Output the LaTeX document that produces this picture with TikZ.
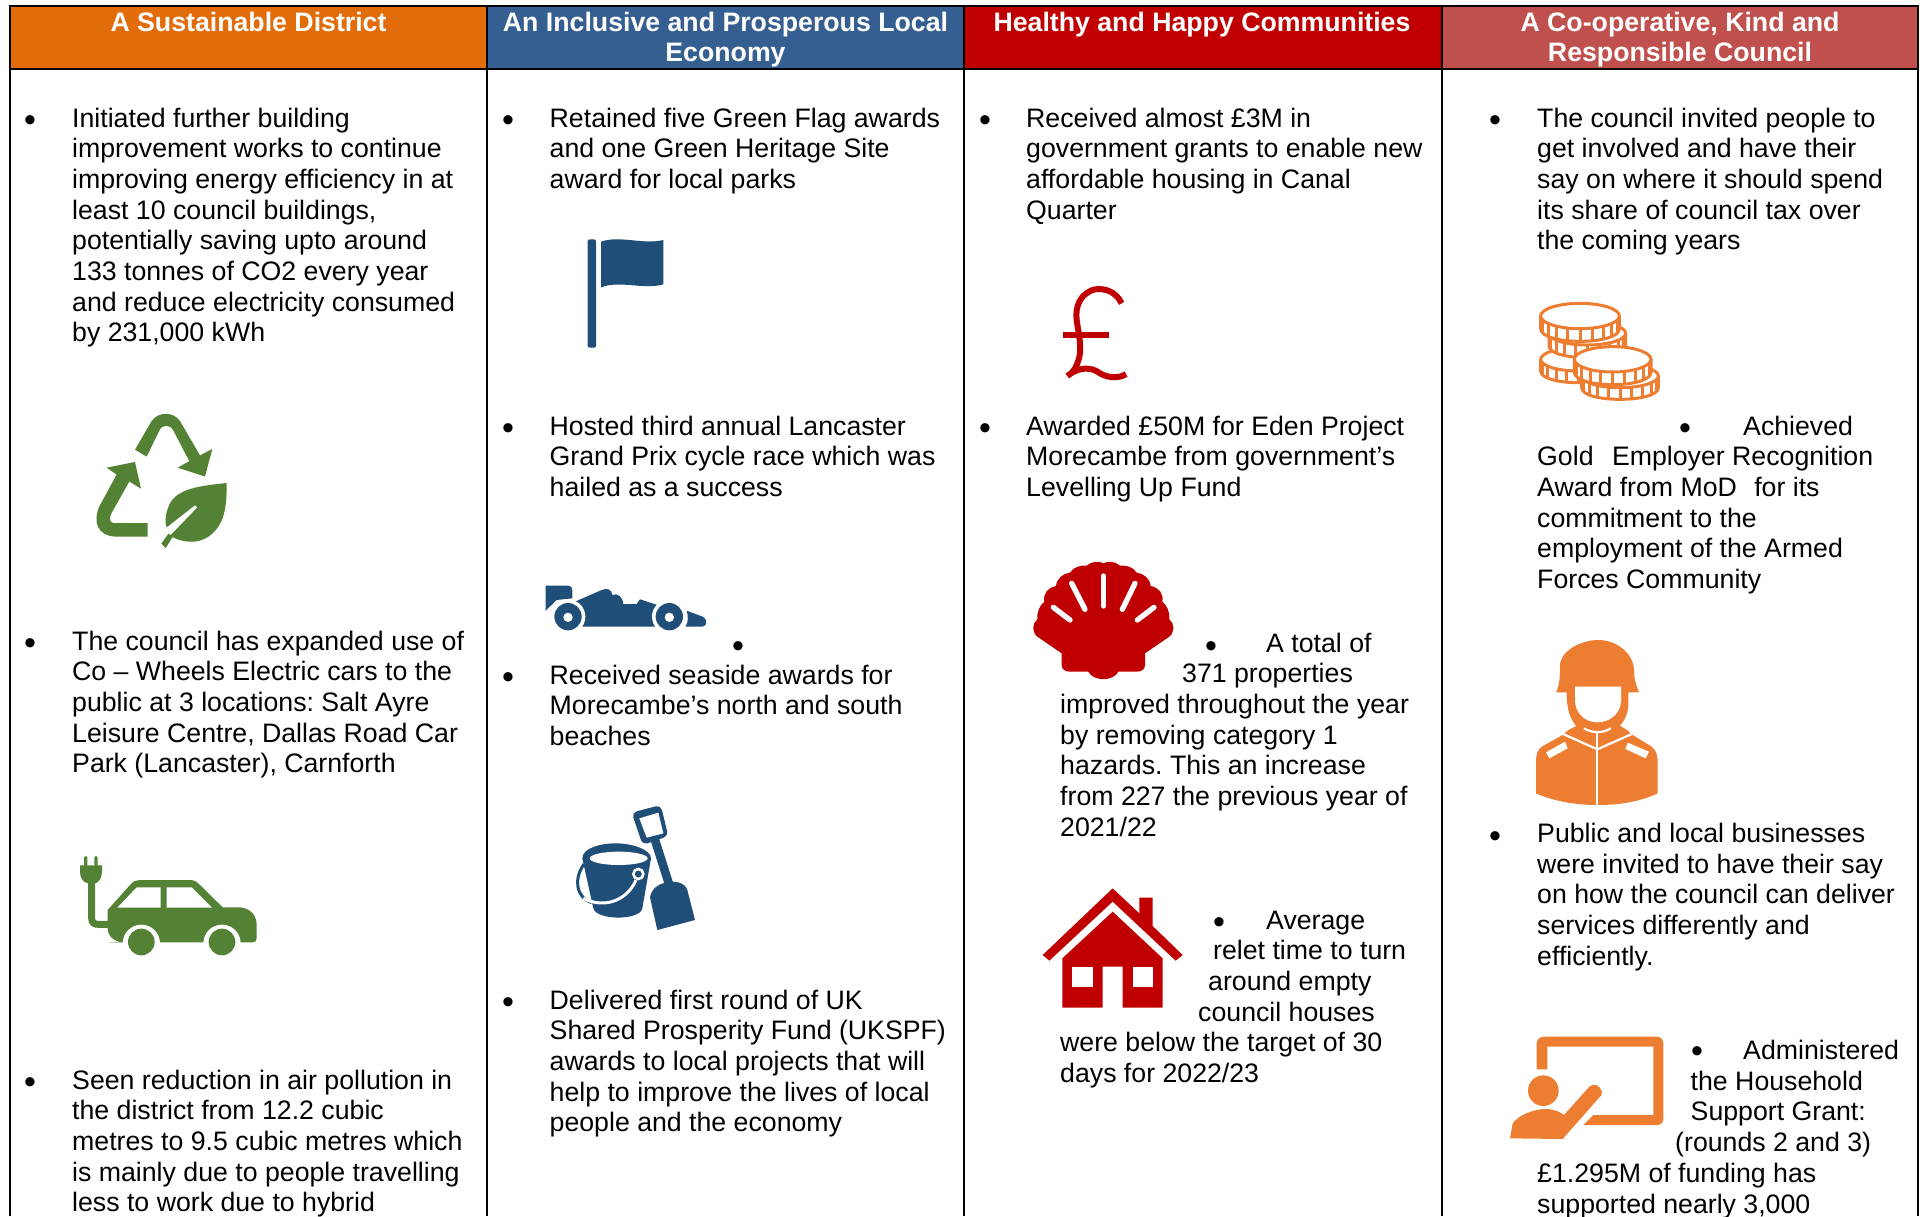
\documentclass[tikz,border=0pt]{standalone}
\usepackage{fontspec}
\setmainfont{Liberation Sans}
\definecolor{hOrange}{HTML}{E36C0A}
\definecolor{hBlue}{HTML}{365F91}
\definecolor{hRed}{HTML}{C00000}
\definecolor{hRose}{HTML}{C0504D}
\definecolor{icGreen}{HTML}{548235}
\definecolor{icBlue}{HTML}{1F4E79}
\definecolor{icRed}{HTML}{C00000}
\definecolor{icOrange}{HTML}{ED7D31}
\newcommand{\fl}{\rule{0pt}{20pt}}
\newcommand{\ind}[1]{\hspace*{#1pt}}
\newcommand{\coinshape}[5]{% cx cy rx ry h
  \path[fill=white] (#1-#3,#2) -- (#1-#3,#2+#5) .. controls (#1-#3,#2+#5+1.333*#4) and (#1+#3,#2+#5+1.333*#4) .. (#1+#3,#2+#5) -- (#1+#3,#2) -- cycle;
  \draw[icOrange,line width=3pt] (#1-#3,#2) -- (#1-#3,#2+#5) .. controls (#1-#3,#2+#5+1.333*#4) and (#1+#3,#2+#5+1.333*#4) .. (#1+#3,#2+#5) -- (#1+#3,#2);
  \foreach \t in {18,36,...,162} {\draw[icOrange,line width=3pt] ({#1+#3*cos(\t)},{#2+#4*sin(\t)}) -- ({#1+#3*cos(\t)},{#2+#5+#4*sin(\t)});}
  \draw[icOrange,line width=3pt,fill=white] (#1,#2) ellipse [x radius=#3,y radius=#4];
}
\tikzset{
  hdrtext/.style={text=white,align=center,inner sep=0pt,anchor=north,yshift=21.2pt,font=\fontsize{26.7}{30.9}\selectfont\bfseries\frenchspacing},
  body/.style={align=left,inner sep=0pt,anchor=north west,yshift=21.2pt,text=black,font=\fontsize{26.7}{30.7}\selectfont\frenchspacing},
  bul/.style={inner sep=0pt,anchor=base,yshift=-12.6pt,text=black,font=\fontsize{34}{34}\selectfont},
  rule/.style={line width=2.6pt,black},
  zoomed/.style={shift={(#1)},scale=1/3}
}
\begin{document}
\begin{tikzpicture}[x=1pt,y=-1pt]
\useasboundingbox (0,0) rectangle (1925,1216);
\fill[white] (0,0) rectangle (1925,1216);
% headers
\fill[hOrange] (10,6) rectangle (487,69);
\fill[hBlue] (487,6) rectangle (964,69);
\fill[hRed] (964,6) rectangle (1442,69);
\fill[hRose] (1442,6) rectangle (1918,69);
\draw[rule] (10,1216) -- (10,6) -- (1918,6) -- (1918,1216);
\draw[rule] (10,69) -- (1918,69);
\draw[rule] (487,6) -- (487,1216);
\draw[rule] (964,6) -- (964,1216);
\draw[rule] (1442,6) -- (1442,1216);
\node[hdrtext] (h1) at (248.5,32) {\fl A Sustainable District};
\node[hdrtext] (h2) at (725.5,32) {\fl An Inclusive and Prosperous Local\\Economy};
\node[hdrtext] (h3) at (1202,32) {\fl Healthy and Happy Communities};
\node[hdrtext] (h4) at (1680,32) {\fl A Co-operative, Kind and\\Responsible Council};
% column 1
\node[bul] (b11) at (30,119) {•};
\node[body] (t11) at (72,128) {\fl Initiated further building\\improvement works to continue\\improving energy efficiency in at\\least 10 council buildings,\\potentially saving upto around\\133 tonnes of CO2 every year\\and reduce electricity consumed\\by 231,000 kWh};
\node[bul] (b12) at (30,642) {•};
\node[body] (t12) at (72,651) {\fl The council has expanded use of\\Co – Wheels Electric cars to the\\public at 3 locations: Salt Ayre\\Leisure Centre, Dallas Road Car\\Park (Lancaster), Carnforth};
\node[bul] (b13) at (30,1081) {•};
\node[body] (t13) at (72,1090) {\fl Seen reduction in air pollution in\\the district from 12.2 cubic\\metres to 9.5 cubic metres which\\is mainly due to people travelling\\less to work due to hybrid};
% column 2
\node[bul] (b21) at (508,119) {•};
\node[body] (t21) at (549.5,128) {\fl Retained five Green Flag awards\\and one Green Heritage Site\\award for local parks};
\node[bul] (b22) at (508,427) {•};
\node[body] (t22) at (549.5,436) {\fl Hosted third annual Lancaster\\Grand Prix cycle race which was\\hailed as a success};
\node[bul] (b23) at (738,644.5) {•};
\node[bul] (b24) at (508,676) {•};
\node[body] (t23) at (549.5,685) {\fl Received seaside awards for\\Morecambe’s north and south\\beaches};
\node[bul] (b25) at (508,1001) {•};
\node[body] (t24) at (549.5,1010) {\fl Delivered first round of UK\\Shared Prosperity Fund (UKSPF)\\awards to local projects that will\\help to improve the lives of local\\people and the economy};
% column 3
\node[bul] (b31) at (985,119) {•};
\node[body] (t31) at (1026,128) {\fl Received almost £3M in\\government grants to enable new\\affordable housing in Canal\\Quarter};
\node[bul] (b32) at (985,427) {•};
\node[body] (t32) at (1026,436) {\fl Awarded £50M for Eden Project\\Morecambe from government’s\\Levelling Up Fund};
\node[bul] (b33) at (1211,644.5) {•};
\node[body] (t33) at (1060,653) {\fl\ind{206}A total of\\\ind{122}371 properties\\improved throughout the year\\by removing category 1\\hazards. This an increase\\from 227 the previous year of\\2021/22};
\node[bul] (b34) at (1219,921) {•};
\node[body] (t34) at (1060,930) {\fl\ind{206}Average\\\ind{153}relet time to turn\\\ind{148}around empty\\\ind{138}council houses\\were below the target of 30\\days for 2022/23};
% column 4
\node[bul] (b41) at (1495,119) {•};
\node[body] (t41) at (1537,128) {\fl The council invited people to\\get involved and have their\\say on where it should spend\\its share of council tax over\\the coming years};
\node[bul] (b42) at (1685,427) {•};
\node[body] (t42) at (1537,436) {\fl\ind{206}Achieved\\Gold\ \ \hspace{3.6pt}Employer Recognition\\Award from MoD\ \ \hspace{2.5pt}for its\\commitment to the\\employment of the Armed\\Forces Community};
\node[bul] (b43) at (1495,835) {•};
\node[body] (t43) at (1537,843.5) {\fl Public and local businesses\\were invited to have their say\\on how the council can deliver\\services differently and\\efficiently.};
\node[bul] (b44) at (1697,1050) {•};
\node[body] (t44) at (1537,1060.5) {\fl\ind{206}Administered\\\ind{153.5}the Household\\\ind{153.5}Support Grant:\\\ind{138}(rounds 2 and 3)\\£1.295M of funding has\\supported nearly 3,000};
% recycle icon
\begin{scope}[shift={(0,0)},xscale=1/3,yscale=1/2.613,icGreen]
\fill (405,1175) -- (455,1100) .. controls (475,1075) and (520,1075) .. (540,1100) -- (600,1190) -- (637,1173) -- (615,1245) -- (533,1222) -- (568,1205) -- (520,1125) .. controls (510,1108) and (487,1108) .. (478,1125) -- (440,1193) -- cycle;
\fill (443,1367) -- (443,1402) -- (345,1402) .. controls (295,1400) and (275,1365) .. (300,1320) -- (350,1240) -- (320,1222) -- (405,1207) -- (423,1277) -- (388,1258) -- (335,1340) .. controls (325,1358) and (330,1367) .. (345,1367) -- cycle;
\fill (680,1262) .. controls (600,1270) and (520,1275) .. (503,1330) .. controls (495,1350) and (495,1365) .. (500,1378) -- (585,1320) -- (592,1326) -- (510,1400) .. controls (560,1425) and (630,1425) .. (665,1360) .. controls (680,1330) and (680,1290) .. (680,1262) -- cycle;
\fill (484,1420) -- (505,1395) -- (520,1400) -- (497,1432) -- cycle;
\end{scope}
% electric car
\begin{scope}[zoomed={40,830}]
\fill[icGreen,rounded corners=1.5pt] (132,78) rectangle (142,110);
\fill[icGreen,rounded corners=1.5pt] (163,78) rectangle (173,110);
\fill[icGreen] (120,106) -- (186,106) -- (186,125) .. controls (186,145) and (175,158) .. (165,160) -- (145,160) .. controls (130,158) and (120,145) .. (120,125) -- cycle;
\draw[icGreen,line width=7pt] (155,150) -- (155,265) .. controls (155,278) and (163,283) .. (175,283) -- (215,283);
\fill[icGreen] (203,240) -- (270,165) .. controls (280,153) and (290,150) .. (300,150) -- (450,150) .. controls (462,150) and (470,155) .. (478,163) -- (548,232) -- (600,232) .. controls (635,235) and (650,260) .. (650,285) -- (650,325) .. controls (650,333) and (645,337) .. (638,337) -- (205,337) -- (240,335) .. controls (215,330) and (203,315) .. (203,295) -- cycle;
\fill[white] (304,340) circle [radius=56];
\fill[white] (546,340) circle [radius=56];
\fill[white] (150,345) rectangle (250,360);
\fill[icGreen] (304,336) circle [radius=40];
\fill[icGreen] (546,336) circle [radius=40];
\fill[white] (232,233) -- (290,172) -- (362,172) -- (362,233) -- cycle;
\fill[white] (380,172) -- (455,172) -- (516,233) -- (380,233) -- cycle;
\end{scope}
% flag
\begin{scope}[zoomed={520,220},icBlue]
\fill[rounded corners=2pt] (203,58) rectangle (228,383);
\fill (243,65) .. controls (300,45) and (370,75) .. (430,60) -- (430,193) .. controls (370,210) and (300,180) .. (243,202) -- cycle;
% racing car
\fill (77,1097) -- (145,1097) .. controls (153,1097) and (157,1103) .. (157,1110) -- (157,1135) -- (110,1140) -- (77,1172) -- cycle;
\fill (165,1145) -- (245,1110) .. controls (262,1103) and (275,1108) .. (277,1125) .. controls (292,1118) and (308,1130) .. (310,1152) -- (350,1152) -- (360,1138) -- (412,1155) -- (430,1220) -- (185,1220) -- cycle;
\fill[white] (144,1190) circle [radius=52];
\fill[white] (448,1190) circle [radius=52];
\fill (144,1190) circle [radius=41];
\fill (448,1190) circle [radius=41];
\fill[white] (144,1192) circle [radius=14];
\fill[white] (448,1192) circle [radius=14];
\fill (500,1172) -- (548,1190) .. controls (558,1195) and (560,1205) .. (558,1212) .. controls (555,1218) and (550,1220) .. (545,1220) -- (497,1220) .. controls (505,1205) and (505,1190) .. (500,1172) -- cycle;
\end{scope}
% bucket and spade
\begin{scope}[zoomed={550,790},icBlue]
\draw[line width=3pt] (102,222) .. controls (72,265) and (75,320) .. (125,338);
\fill (97,205) .. controls (97,175) and (150,160) .. (197,160) .. controls (250,160) and (303,180) .. (303,205) -- (277,355) .. controls (270,392) and (140,392) .. (130,355) -- cycle;
\fill[white] (206,205) ellipse [x radius=87,y radius=20];
\draw[white,line width=3pt] (100,325) .. controls (170,360) and (235,325) .. (258,270);
\draw[white,line width=2.6pt] (265,252) circle [radius=15];
\draw[white,line width=5pt] (315,160) -- (358,285);
\draw[white,line width=2pt] (300,320) .. controls (305,295) and (325,283) .. (345,278) -- (322,420) -- cycle;
\fill[rounded corners=5pt] (245,68) -- (332,45) -- (355,138) -- (278,165) -- cycle;
\fill[white] (268,85) -- (325,68) -- (340,130) -- (290,143) -- cycle;
\draw[line width=8.6pt] (315,150) -- (358,285);
\fill (300,322) .. controls (305,295) and (325,283) .. (345,278) .. controls (375,270) and (405,278) .. (412,300) -- (435,390) -- (322,420) -- cycle;
\end{scope}
% pound
\begin{scope}[zoomed={1020,270},icRed]
\draw[line width=6pt] (305,100) .. controls (285,60) and (250,55) .. (225,58) .. controls (180,70) and (165,110) .. (170,150) .. controls (175,190) and (190,240) .. (172,280) .. controls (165,300) and (155,310) .. (142,318) .. controls (175,290) and (215,290) .. (240,310) .. controls (265,325) and (300,325) .. (318,312);
\draw[line width=6.5pt] (128,195) -- (266,195);
\end{scope}
% shell
\begin{scope}[zoomed={1020,550},icRed]
\fill (125,310) -- (55,262) .. controls (35,250) and (35,220) .. (52,208) .. controls (50,185) and (60,165) .. (73,155) .. controls (68,130) and (85,112) .. (108,108) .. controls (110,85) and (130,70) .. (150,68) .. controls (160,50) and (185,45) .. (200,47) .. controls (215,33) and (238,33) .. (250,40) .. controls (262,33) and (285,33) .. (300,47) .. controls (315,45) and (340,50) .. (350,68) .. controls (370,70) and (390,85) .. (392,108) .. controls (415,112) and (432,130) .. (427,155) .. controls (440,165) and (450,185) .. (448,208) .. controls (465,220) and (465,250) .. (445,262) -- (375,310) -- (375,345) .. controls (375,358) and (365,365) .. (350,365) -- (295,365) .. controls (280,395) and (220,395) .. (205,365) -- (150,365) .. controls (135,365) and (125,358) .. (125,345) -- cycle;
\draw[white,line width=5.3pt,line cap=round] (250,78) -- (250,168);
\draw[white,line width=5.3pt,line cap=round] (155,100) -- (195,178);
\draw[white,line width=5.3pt,line cap=round] (345,100) -- (307,178);
\draw[white,line width=5.3pt,line cap=round] (100,172) -- (150,210);
\draw[white,line width=5.3pt,line cap=round] (402,172) -- (352,210);
\end{scope}
% house
\begin{scope}[zoomed={1030,870},icRed]
\fill (38,255) -- (248,55) -- (328,130) -- (328,83) -- (368,83) -- (368,168) -- (458,255) -- (437,272) -- (248,95) -- (58,272) -- cycle;
\fill (97,265) -- (248,125) -- (398,265) -- (398,413) -- (278,413) -- (278,290) -- (218,290) -- (218,413) -- (97,413) -- cycle;
\fill[white] (127,290) rectangle (188,350);
\fill[white] (308,290) rectangle (368,350);
\end{scope}
% coins
\begin{scope}[zoomed={1520,290}]
\coinshape{175}{208}{113}{35}{35}
\coinshape{202}{130}{115}{35}{38}
\coinshape{180}{78}{118}{38}{38}
\coinshape{300}{258}{115}{35}{35}
\coinshape{278}{208}{115}{38}{38}
\end{scope}
% soldier
\begin{scope}[zoomed={1520,630},icOrange]
\fill (108,187) .. controls (120,165) and (120,130) .. (120,100) .. controls (130,55) and (190,30) .. (235,30) .. controls (290,30) and (340,70) .. (342,120) .. controls (342,150) and (350,170) .. (357,187) -- (325,187) -- (325,225) .. controls (325,260) and (300,290) .. (290,295) -- (175,295) .. controls (150,270) and (140,240) .. (140,187) -- cycle;
\fill[white] (165,170) -- (303,170) -- (303,215) .. controls (300,255) and (265,277) .. (233,277) .. controls (195,277) and (165,250) .. (165,210) -- cycle;
\fill (128,315) -- (65,350) .. controls (52,360) and (48,375) .. (48,395) -- (48,490) .. controls (105,515) and (170,525) .. (232,525) .. controls (300,525) and (360,515) .. (413,490) -- (413,395) .. controls (413,375) and (408,360) .. (395,350) -- (338,315) -- (318,298) -- (295,285) -- (175,285) -- (145,300) -- cycle;
\draw[white,line width=2.2pt] (125,310) -- (232,358) -- (340,310);
\draw[white,line width=2.2pt] (232,305) -- (232,527);
\draw[white,line width=2.2pt] (192,295) .. controls (215,310) and (250,310) .. (272,295);
\fill[white] (78,367) -- (135,335) -- (143,355) -- (88,385) -- cycle;
\fill[white] (323,338) -- (387,365) -- (377,385) -- (316,357) -- cycle;
\end{scope}
% teacher
\begin{scope}[zoomed={1500,1020},icOrange]
\fill (110,148) -- (110,72) .. controls (110,58) and (120,50) .. (132,50) -- (470,50) .. controls (483,50) and (490,58) .. (490,72) -- (490,295) .. controls (490,308) and (483,315) .. (470,315) -- (250,315) -- (280,285) -- (460,285) -- (460,80) -- (142,80) -- (142,148) -- cycle;
\fill (130,212) circle [radius=46];
\fill (30,355) -- (38,310) .. controls (60,280) and (110,267) .. (135,267) .. controls (160,267) and (180,275) .. (192,285) -- (268,200) .. controls (280,188) and (300,195) .. (306,215) .. controls (306,225) and (303,228) .. (298,232) -- (188,357) -- cycle;
\end{scope}
\end{tikzpicture}
\end{document}
